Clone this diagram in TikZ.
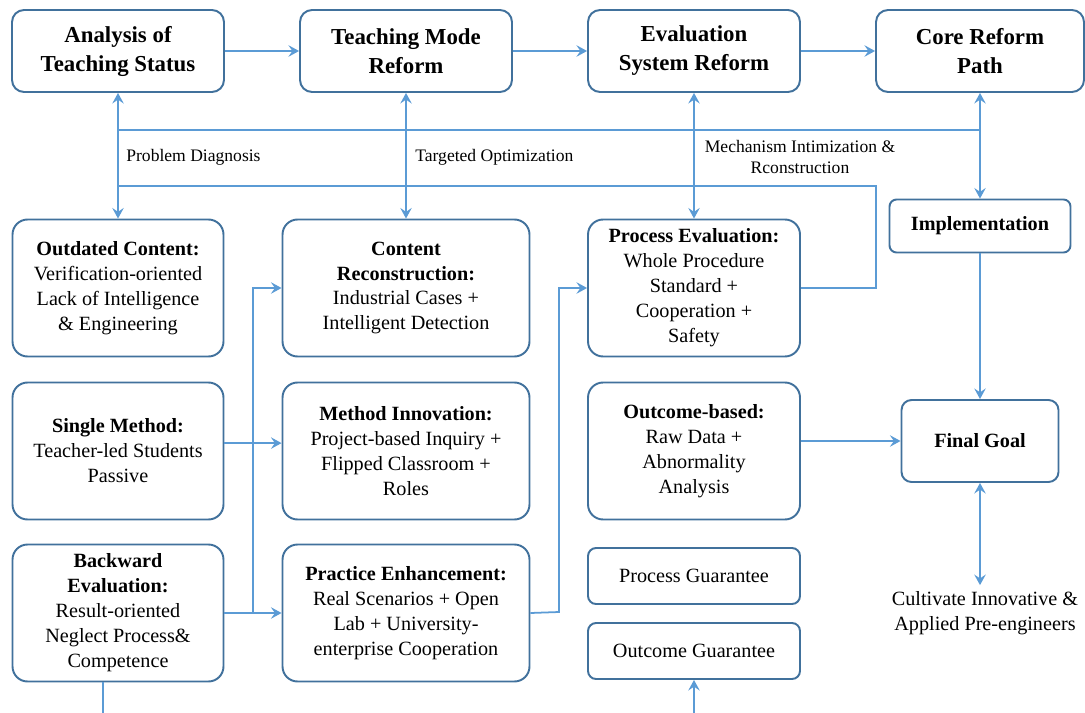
\documentclass[tikz,border=0pt]{standalone}
\usepackage{fontspec}
\setmainfont{Liberation Serif}
\usetikzlibrary{arrows.meta}
\definecolor{boxblue}{HTML}{41719C}
\definecolor{linkblue}{HTML}{5B9BD5}

\begin{document}
\begin{tikzpicture}[x=0.02cm,y=-0.02cm,
	box/.style={draw=boxblue, line width=1.1pt, rounded corners=0.3cm, align=center, inner sep=2pt, fill=white},
	head/.style={box, minimum width=4.24cm, minimum height=1.64cm, rounded corners=0.24cm, font=\fontsize{13}{16.5}\selectfont\bfseries},
	cell/.style={box, minimum height=2.74cm, font=\fontsize{11.5}{14.2}\selectfont},
	slim/.style={box, minimum width=4.24cm, minimum height=1.12cm, rounded corners=0.16cm, font=\fontsize{11.5}{14.2}\selectfont},
	key/.style={box, font=\fontsize{11.5}{14.2}\selectfont\bfseries},
	link/.style={draw=linkblue, line width=1pt},
	note/.style={font=\fontsize{10}{12.5}\selectfont, align=center, inner sep=0pt},
	>={Stealth[length=6pt, width=6.5pt, inset=2.2pt]}]
	\useasboundingbox (0,0) rectangle (1085,713);
	
	% Top row: reform stages
	\node[head] (analysis) at (118,51) {Analysis of\\Teaching Status};
	\node[head] (mode) at (406,51) {Teaching Mode\\Reform};
	\node[head] (evalsys) at (694,51) {Evaluation\\System Reform};
	\node[head, minimum width=4.16cm] (core) at (980,51) {Core Reform\\Path};
	
	% Problems (left column)
	\node[cell, minimum width=4.22cm] (outdated) at (118,288) {\textbf{Outdated Content:}\\Verification-oriented\\Lack of Intelligence\\\& Engineering};
	\node[cell, minimum width=4.22cm] (single) at (118,451) {\textbf{Single Method:}\\Teacher-led Students\\Passive};
	\node[cell, minimum width=4.22cm] (backward) at (118,613) {\textbf{Backward}\\\textbf{Evaluation:}\\Result-oriented\\Neglect Process\&\\Competence};
	
	% Measures (middle column)
	\node[cell, minimum width=4.94cm] (content) at (406,288) {\textbf{Content}\\\textbf{Reconstruction:}\\Industrial Cases +\\Intelligent Detection};
	\node[cell, minimum width=4.94cm] (method) at (406,451) {\textbf{Method Innovation:}\\Project-based Inquiry +\\Flipped Classroom +\\Roles};
	\node[cell, minimum width=4.94cm] (practice) at (406,613) {\textbf{Practice Enhancement:}\\Real Scenarios + Open\\Lab + University-\\enterprise Cooperation};
	
	% Evaluation column
	\node[cell, minimum width=4.24cm] (procev) at (694,288) {\textbf{Process Evaluation:}\\Whole Procedure\\Standard +\\Cooperation +\\Safety};
	\node[cell, minimum width=4.24cm] (outcome) at (694,451) {\textbf{Outcome-based:}\\Raw Data +\\Abnormality\\Analysis};
	\node[slim] (procg) at (694,576) {Process Guarantee};
	\node[slim] (outg) at (694,651) {Outcome Guarantee};
	
	% Right column
	\node[key, minimum width=3.62cm, minimum height=1.06cm, rounded corners=0.14cm] (impl) at (980,226) {Implementation};
	\node[key, minimum width=3.14cm, minimum height=1.64cm, rounded corners=0.2cm] (goal) at (980,441) {Final Goal};
	\node[font=\fontsize{11.5}{14.2}\selectfont, align=center] (aim) at (985,613) {Cultivate Innovative \&\\Applied Pre-engineers};
	
	% Labels between the rows
	\node[note, anchor=west] (diag) at (126,157) {Problem Diagnosis};
	\node[note, anchor=west] (optim) at (415,157) {Targeted Optimization};
	\node[note] (mech) at (800,157) {Mechanism Intimization \&\\Rconstruction};
	
	\coordinate (busL) at (118,130);
	\coordinate (busR) at (980,130);
	\coordinate (loopL) at (118,186);
	\coordinate (loopR) at (876,186);
	\coordinate (riseA) at (253,612);
	\coordinate (riseB) at (559,612);
	\coordinate (offA) at (103,713);
	\coordinate (offB) at (694,713);
	
	% Connectors
	\draw[link,->] (analysis) -- (mode);
	\draw[link,->] (mode) -- (evalsys);
	\draw[link,->] (evalsys) -- (core);
	\draw[link,<->] (analysis) -- (outdated);
	\draw[link,<->] (mode) -- (content);
	\draw[link,<->] (evalsys) -- (procev);
	\draw[link,<->] (core) -- (impl);
	\draw[link] (busL) -- (busR);
	\draw[link] (loopL) -- (loopR) |- (procev.east);
	
	\draw[link,->] ([yshift=4.5pt]single.east) -- ([yshift=4.5pt]method.west);
	\draw[link,->] (backward) -- (practice);
	\draw[link,->] (riseA) |- (content.west);
	\draw[link,->] (practice.east) -- (riseB) |- (procev.west);
	\draw[link,->] (outcome.east |- goal.west) -- (goal.west);
	\draw[link,->] (impl) -- (goal);
	\draw[link,<->] (goal) -- (goal.south |- aim.north);
	\draw[link] (backward.south -| offA) -- (offA);
	\draw[link,->] (offB) -- (outg);
\end{tikzpicture}
\end{document}
